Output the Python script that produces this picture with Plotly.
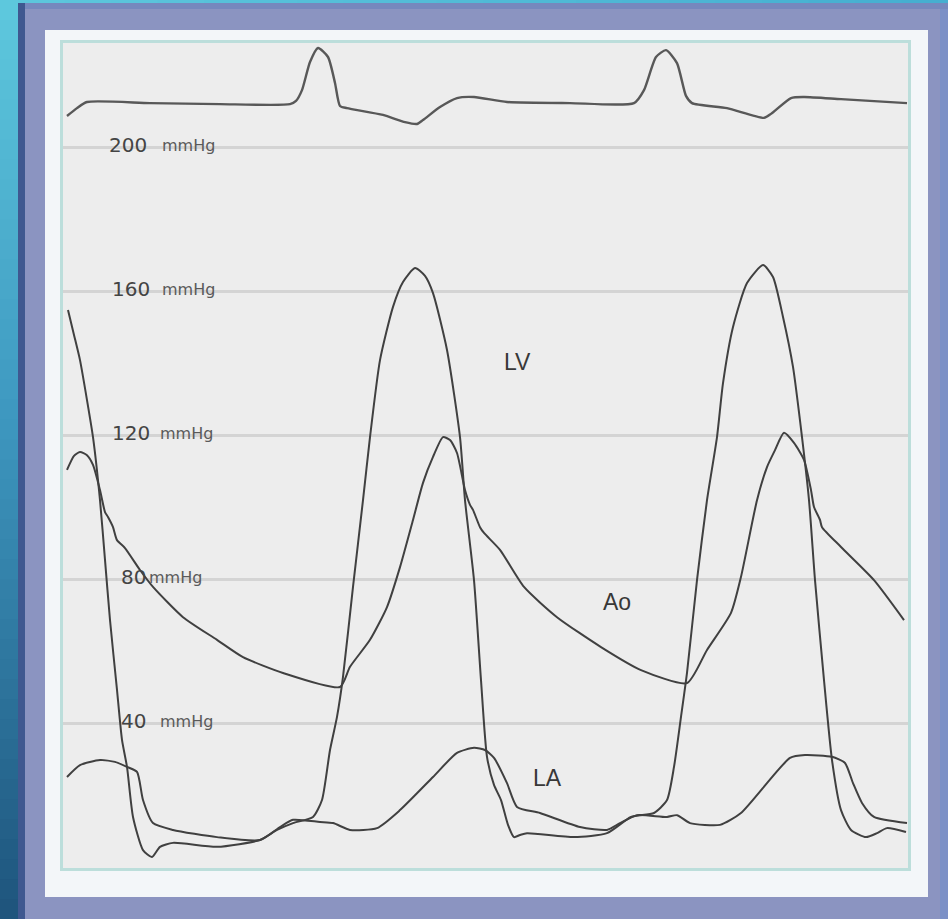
import plotly.graph_objects as go

# ---------------- data (time in ms, pressure in mmHg) ----------------
ecg_t = [10, 35, 60, 217.5, 392.5, 567.5, 582.5, 597.5, 617.5, 637.5, 662.5, 680, 692.5, 710, 800, 855, 885, 900,
         942.5, 985, 1027.5, 1110, 1267.5, 1427.5, 1452.5, 1482.5, 1507.5, 1535, 1557.5, 1572.5, 1660, 1752.5,
         1770, 1820, 1852.5, 1945, 2110]
ecg_p = [208.6, 210.8, 212.5, 212.2, 211.9, 211.9, 212.8, 215.8, 223.6, 227.5, 225.0, 217.8, 211.4, 210.8, 208.9,
         206.9, 206.4, 207.5, 211.1, 213.6, 213.9, 212.5, 212.2, 212.2, 215.8, 225.0, 226.9, 223.3, 214.2, 212.2,
         210.8, 208.1, 209.2, 213.6, 213.9, 213.3, 212.2]

lv_t = [12.5, 27.5, 42.5, 60, 75, 92.5, 105, 117.5, 135, 147.5, 160, 175, 200, 222.5, 242.5, 275, 385, 492.5, 535,
        575, 625, 647.5, 667.5, 685, 700, 725, 750, 767.5, 792.5, 825, 850, 880, 905, 925, 960, 992.5, 1005,
        1027.5, 1045, 1060, 1077.5, 1095, 1112.5, 1127.5, 1142.5, 1160, 1277.5, 1360, 1420, 1477.5, 1510, 1527.5,
        1545, 1560, 1585, 1610, 1635, 1650, 1675, 1710, 1750, 1775, 1800, 1825, 1847.5, 1865, 1880, 1902.5,
        1922.5, 1945, 1970, 2007.5, 2035, 2060, 2107.5]
lv_p = [154.7, 147.8, 140.8, 129.7, 119.4, 101.9, 85.3, 68.6, 49.2, 35.3, 27.8, 13.9, 4.7, 2.8, 5.6, 6.7, 5.6, 7.5,
        10.3, 12.2, 13.9, 18.6, 32.5, 41.7, 52.8, 77.8, 101.9, 119.4, 140.8, 155.6, 162.5, 166.4, 164.2, 159.4,
        143.6, 119.4, 101.9, 79.7, 51.9, 30.6, 22.8, 18.6, 11.7, 8.3, 8.9, 9.4, 8.3, 9.4, 13.9, 15.0, 18.6, 27.8,
        41.7, 53.9, 79.7, 101.9, 119.4, 134.4, 150.0, 162.2, 167.2, 163.9, 152.8, 138.9, 119.4, 101.9, 79.7, 51.9,
        29.7, 15.8, 10.3, 8.3, 9.4, 10.8, 9.7]

ao_t = [10, 27.5, 42.5, 60, 75, 92.5, 105, 112.5, 125, 135, 155, 192.5, 225, 300, 385, 450, 550, 692.5, 717.5,
        767.5, 810, 842.5, 875, 900, 925, 950, 967.5, 985, 1005, 1017.5, 1025, 1042.5, 1052.5, 1092.5, 1152.5,
        1235, 1345, 1445, 1560, 1610, 1670, 1695, 1735, 1760, 1780, 1802.5, 1827.5, 1852.5, 1870, 1877.5, 1892.5,
        1897.5, 1945, 2027.5, 2102.5]
ao_p = [110.3, 114.2, 115.3, 114.4, 111.7, 104.7, 98.6, 97.2, 94.4, 90.8, 88.6, 82.5, 77.8, 69.4, 63.1, 58.3, 53.9,
        50.0, 55.6, 63.1, 72.2, 83.3, 96.4, 106.7, 113.9, 119.4, 118.6, 115.0, 104.7, 100.6, 99.2, 94.4, 92.8,
        88.1, 77.8, 69.4, 61.1, 54.7, 51.1, 60.3, 70.6, 80.6, 101.9, 111.1, 115.8, 120.6, 117.8, 113.1, 104.7,
        100.0, 96.4, 94.4, 88.9, 79.7, 68.6]

la_t = [10, 42.5, 92.5, 130, 160, 185, 200, 225, 275, 385, 492.5, 542.5, 575, 642.5, 675, 717.5, 785, 842.5, 925,
        985, 1027.5, 1055, 1077.5, 1110, 1135, 1192.5, 1292.5, 1360, 1392.5, 1435, 1510, 1535, 1567.5, 1642.5,
        1695, 1817.5, 1855, 1922.5, 1955, 1975, 1997.5, 2027.5, 2110]
la_p = [25.0, 28.3, 29.7, 29.2, 27.8, 26.4, 18.6, 12.2, 10.3, 8.3, 7.5, 11.1, 13.1, 12.5, 12.2, 10.3, 10.8, 15.8,
        25.0, 31.7, 33.1, 32.5, 30.3, 23.3, 16.7, 15.0, 11.1, 10.3, 12.2, 14.4, 13.9, 14.4, 12.2, 11.7, 15.0, 30.3,
        31.1, 30.6, 28.9, 23.3, 17.8, 13.9, 12.2]

grid_levels = [200, 160, 120, 80, 40]
unit_label = "mmHg"
curve_names = ["LV", "Ao", "LA"]

# ---------------- geometry ----------------
W, H = 948, 919
L, T, R, B = 63, 43, 908, 868          # plot area in pixels
MS_PER_PX = 2.5
PX_PER_MMHG = 3.6
ZERO_PX = 867
x_range = [0, (R - L) * MS_PER_PX]
y_range = [(ZERO_PX - B) / PX_PER_MMHG, (ZERO_PX - T) / PX_PER_MMHG]


def pxx(x):
    return (x - L) / (R - L)


def pxy(y):
    return (B - y) / (B - T)


def t_at(x):
    return (x - L) * MS_PER_PX


def p_at(y):
    return (ZERO_PX - y) / PX_PER_MMHG


fig = go.Figure()

series = [
    (ecg_t, ecg_p, "#585858", 2.4),
    (lv_t, lv_p, "#404040", 2.0),
    (ao_t, ao_p, "#404040", 2.0),
    (la_t, la_p, "#404040", 2.0),
]
for t, p, c, w in series:
    fig.add_trace(go.Scatter(x=t, y=p, mode="lines",
                             line=dict(color=c, width=w, shape="spline", smoothing=0.6),
                             hoverinfo="skip", showlegend=False))

# ---------------- decorations (frame / background) ----------------
shapes = []


def rect(x0, y0, x1, y1, color):
    shapes.append(dict(type="rect", xref="paper", yref="paper",
                       x0=pxx(x0), x1=pxx(x1), y0=pxy(y1), y1=pxy(y0),
                       fillcolor=color, line=dict(width=0), layer="below"))


def lerp(c1, c2, f):
    return tuple(int(round(a + (b - a) * f)) for a, b in zip(c1, c2))


stops = [(0.0, (94, 201, 222)), (0.45, (62, 152, 192)), (1.0, (30, 84, 124))]
n = 46
for i in range(n):
    f = (i + 0.5) / n
    for (f0, c0), (f1, c1) in zip(stops[:-1], stops[1:]):
        if f0 <= f <= f1:
            col = lerp(c0, c1, (f - f0) / (f1 - f0))
            break
    y0 = H * i / n
    y1 = H * (i + 1) / n + 1
    rect(0, y0, 18, y1, "rgb(%d,%d,%d)" % col)

# top strip
n2 = 20
for i in range(n2):
    f = i / (n2 - 1)
    col = lerp((92, 198, 220), (70, 175, 208), f)
    rect(18 + (W - 18) * i / n2, 0, 18 + (W - 18) * (i + 1) / n2 + 1, 3, "rgb(%d,%d,%d)" % col)

rect(18, 3, 25, H, "#3f5890")          # dark left edge of frame
rect(25, 3, W, 9, "#7688bd")           # darker top band of frame
rect(940, 9, W, H, "#7b90c6")          # right edge tint

# white panel band around plot
panel = "#f3f6f9"
rect(45, 30, 928, T, panel)
rect(45, B, 928, 897, panel)
rect(45, T, L, B, panel)
rect(R, T, 928, B, panel)

fig.update_layout(shapes=shapes)

# ---------------- annotations ----------------
num_x_px = [107, 110, 110, 119, 119]
unit_x_px = [160, 160, 158, 147, 158]
ann = []
for lvl, nx, ux in zip(grid_levels, num_x_px, unit_x_px):
    ann.append(dict(x=t_at(nx), y=lvl, xref="x", yref="y", text=str(lvl), showarrow=False,
                    xanchor="left", yanchor="middle", yshift=2,
                    font=dict(family="DejaVu Sans", size=20, color="#444444")))
    ann.append(dict(x=t_at(ux), y=lvl, xref="x", yref="y", text=unit_label, showarrow=False,
                    xanchor="left", yanchor="middle", yshift=2,
                    font=dict(family="DejaVu Sans", size=16, color="#5a5a5a")))

curve_label_px = [(517, 362), (617, 602), (547, 778)]
for name, (cx, cy) in zip(curve_names, curve_label_px):
    ann.append(dict(x=t_at(cx), y=p_at(cy), xref="x", yref="y", text=name, showarrow=False,
                    xanchor="center", yanchor="middle",
                    font=dict(family="Liberation Sans", size=23, color="#383838")))

fig.update_layout(
    annotations=ann,
    width=W, height=H,
    margin=dict(l=L, r=W - R, t=T, b=H - B, pad=0),
    paper_bgcolor="#8b94c1",
    plot_bgcolor="#ededed",
    xaxis=dict(range=x_range, showgrid=False, zeroline=False, showticklabels=False, ticks="",
               showline=True, mirror=True, linecolor="#bcdedb", linewidth=3, fixedrange=True),
    yaxis=dict(range=y_range, tickvals=grid_levels, showgrid=True, gridcolor="#d4d4d4", gridwidth=2.5,
               zeroline=False, showticklabels=False, ticks="",
               showline=True, mirror=True, linecolor="#bcdedb", linewidth=3, fixedrange=True),
)

fig.write_html("out.html")
